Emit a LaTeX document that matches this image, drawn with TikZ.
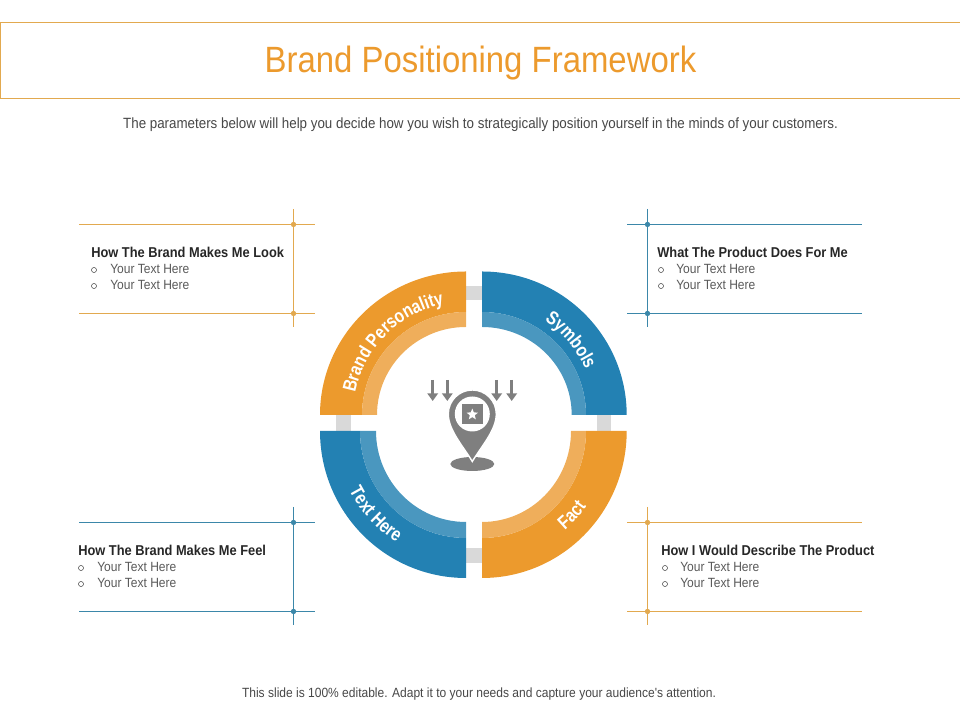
\documentclass[tikz,border=0pt]{standalone}
\usepackage{fontspec}
\usetikzlibrary{arrows.meta,decorations.text,shapes.geometric}
\setmainfont{Liberation Sans}
\newfontfamily\narrowfont[FakeStretch=0.9]{Liberation Sans}
\newfontfamily\arcfont[FakeStretch=0.82]{Liberation Sans}
\definecolor{brandorange}{HTML}{EC9A2D}
\definecolor{brandlightorange}{HTML}{EFAE5B}
\definecolor{brandblue}{HTML}{2381B3}
\definecolor{brandlightblue}{HTML}{4A97BF}
\definecolor{lineorange}{HTML}{E2A94F}
\definecolor{lineblue}{HTML}{3B87A9}
\definecolor{pingray}{HTML}{7F7F7F}
\tikzset{
  headtext/.style={anchor=west, inner sep=0pt, text=black!85, font=\narrowfont\bfseries\fontsize{10.15}{12}\selectfont},
  itemtext/.style={anchor=west, inner sep=0pt, text=black!65, font=\narrowfont\fontsize{9.5}{11}\selectfont},
  bulletdot/.style={circle, draw=black!70, line width=0.4pt, inner sep=0pt, minimum size=3.6pt},
  paneldot/.style={circle, inner sep=0pt, minimum size=3.8pt},
  panelline/.style={line width=0.85pt},
  pinarrow/.style={pingray, line width=1.9pt, -{Triangle[width=7.5pt,length=5.5pt]}},
  arctext/.style={decorate, decoration={text along path, text align={align=center}, text={|\arcfont\bfseries\fontsize{13.5}{15}\selectfont\color{white}|#1}}}
}
\begin{document}
\begin{tikzpicture}[x=0.025cm,y=0.025cm]
    \useasboundingbox (0,0) rectangle (960,720);

    % title
    \draw[lineorange, panelline] (0.5,621.5) -- (965,621.5);
    \draw[lineorange, panelline] (0.5,697.5) -- (965,697.5);
    \draw[lineorange, panelline] (0.5,621.5) -- (0.5,697.5);
    \node[text=brandorange, inner sep=0pt, font=\narrowfont\fontsize{26}{30}\selectfont] (TITLE) at (480.5,657) {Brand Positioning Framework};
    \node[text=black!72, inner sep=0pt, font=\narrowfont\fontsize{10.55}{12}\selectfont] (SUB) at (480.5,595) {The parameters below will help you decide how you wish to strategically position yourself in the minds of your customers.};
    \node[text=black!72, inner sep=0pt, font=\narrowfont\fontsize{9.5}{11}\selectfont] (FOOT) at (479,25.5) {This slide is 100\% editable. Adapt it to your needs and capture your audience's attention.};

    % gray links behind the ring
    \fill[black!15] (466,419.5) rectangle (482,433.5);
    \fill[black!15] (466,157) rectangle (482,172);
    \fill[black!15] (336,289) rectangle (351,305);
    \fill[black!15] (596.5,289) rectangle (611,305);

    % top left
    \fill[brandorange] (320,305) arc[start angle=180, end angle=90, x radius=146, y radius=143.5] -- (466,408) arc[start angle=90, end angle=180, x radius=104, y radius=103] -- cycle;
    \fill[brandlightorange] (362,305) arc[start angle=180, end angle=90, x radius=104, y radius=103] -- (466,393) arc[start angle=90, end angle=180, x radius=89, y radius=88] -- cycle;
    % top right
    \fill[brandblue] (626.7,305) arc[start angle=0, end angle=90, x radius=144.7, y radius=143.5] -- (482,408) arc[start angle=90, end angle=0, x radius=104, y radius=103] -- cycle;
    \fill[brandlightblue] (586,305) arc[start angle=0, end angle=90, x radius=104, y radius=103] -- (482,393) arc[start angle=90, end angle=0, x radius=89.7, y radius=88] -- cycle;
    % bottom left
    \fill[brandblue] (320,289) arc[start angle=180, end angle=270, x radius=146, y radius=147] -- (466,182) arc[start angle=270, end angle=180, x radius=106, y radius=107] -- cycle;
    \fill[brandlightblue] (360,289) arc[start angle=180, end angle=270, x radius=106, y radius=107] -- (466,198) arc[start angle=270, end angle=180, x radius=90, y radius=91] -- cycle;
    % bottom right
    \fill[brandorange] (626.7,289) arc[start angle=0, end angle=-90, x radius=144.7, y radius=147] -- (482,182) arc[start angle=-90, end angle=0, x radius=104, y radius=107] -- cycle;
    \fill[brandlightorange] (586,289) arc[start angle=0, end angle=-90, x radius=104, y radius=107] -- (482,198) arc[start angle=-90, end angle=0, x radius=89, y radius=91] -- cycle;

    % ring labels
    \path[arctext={Brand Personality}] (466,305) ++(173:113) arc[start angle=173, end angle=97, radius=113];
    \path[arctext={Symbols}] (482,305) ++(70:113) arc[start angle=70, end angle=10, radius=113];
    \path[arctext={Text Here}] (466,289) ++(190:131) arc[start angle=190, end angle=255, radius=131];
    \path[arctext={Fact}] (482,289) ++(-70:129) arc[start angle=-70, end angle=-16, radius=129];

    % pin in the middle
    \fill[pingray] (472.3,256) ellipse[x radius=22, y radius=7];
    \draw[white, line width=1pt, fill=pingray] (472.3,258.5) .. controls (463,274) and (448.3,290) .. (448.3,306) arc[start angle=180, end angle=0, radius=24] .. controls (496.3,290) and (481.6,274) .. cycle;
    \fill[white] (472.3,306) circle[radius=17.5];
    \fill[pingray] (462,296) rectangle (482.7,316);
    \node[star, star points=5, star point ratio=2.3, fill=white, inner sep=0pt, minimum size=8.5pt] (STAR) at (472.3,305.5) {};
    \draw[pinarrow] (432.7,340) -- (432.7,319);
    \draw[pinarrow] (447.3,340) -- (447.3,319);
    \draw[pinarrow] (496.7,340) -- (496.7,319);
    \draw[pinarrow] (511.7,340) -- (511.7,319);

    % panel top left
    \draw[lineorange, panelline] (79,495.5) -- (315,495.5);
    \draw[lineorange, panelline] (79,406.5) -- (315,406.5);
    \draw[lineorange, panelline] (293.5,511) -- (293.5,393);
    \node[paneldot, fill=lineorange] (TLA) at (293.5,495.5) {};
    \node[paneldot, fill=lineorange] (TLB) at (293.5,406.5) {};
    \node[headtext] (TLH) at (91,468) {How The Brand Makes Me Look};
    \node[bulletdot] (TLC) at (94,450) {};
    \node[itemtext] (TLD) at (110,451) {Your Text Here};
    \node[bulletdot] (TLE) at (94,434) {};
    \node[itemtext] (TLF) at (110,435) {Your Text Here};

    % panel top right
    \draw[lineblue, panelline] (627,495.5) -- (862,495.5);
    \draw[lineblue, panelline] (627,406.5) -- (862,406.5);
    \draw[lineblue, panelline] (647.5,511) -- (647.5,393);
    \node[paneldot, fill=lineblue] (TRA) at (647.5,495.5) {};
    \node[paneldot, fill=lineblue] (TRB) at (647.5,406.5) {};
    \node[headtext] (TRH) at (657,468) {What The Product Does For Me};
    \node[bulletdot] (TRC) at (661,450) {};
    \node[itemtext] (TRD) at (676,451) {Your Text Here};
    \node[bulletdot] (TRE) at (661,434) {};
    \node[itemtext] (TRF) at (676,435) {Your Text Here};

    % panel bottom left
    \draw[lineblue, panelline] (79,197.5) -- (315,197.5);
    \draw[lineblue, panelline] (79,108.5) -- (315,108.5);
    \draw[lineblue, panelline] (293.5,213) -- (293.5,95);
    \node[paneldot, fill=lineblue] (BLA) at (293.5,197.5) {};
    \node[paneldot, fill=lineblue] (BLB) at (293.5,108.5) {};
    \node[headtext] (BLH) at (78,170) {How The Brand Makes Me Feel};
    \node[bulletdot] (BLC) at (81,152) {};
    \node[itemtext] (BLD) at (97,153) {Your Text Here};
    \node[bulletdot] (BLE) at (81,136) {};
    \node[itemtext] (BLF) at (97,137) {Your Text Here};

    % panel bottom right
    \draw[lineorange, panelline] (627,197.5) -- (862,197.5);
    \draw[lineorange, panelline] (627,108.5) -- (862,108.5);
    \draw[lineorange, panelline] (647.5,213) -- (647.5,95);
    \node[paneldot, fill=lineorange] (BRA) at (647.5,197.5) {};
    \node[paneldot, fill=lineorange] (BRB) at (647.5,108.5) {};
    \node[headtext] (BRH) at (661,170) {How I Would Describe The Product};
    \node[bulletdot] (BRC) at (665,152) {};
    \node[itemtext] (BRD) at (680,153) {Your Text Here};
    \node[bulletdot] (BRE) at (665,136) {};
    \node[itemtext] (BRF) at (680,137) {Your Text Here};
\end{tikzpicture}
\end{document}
